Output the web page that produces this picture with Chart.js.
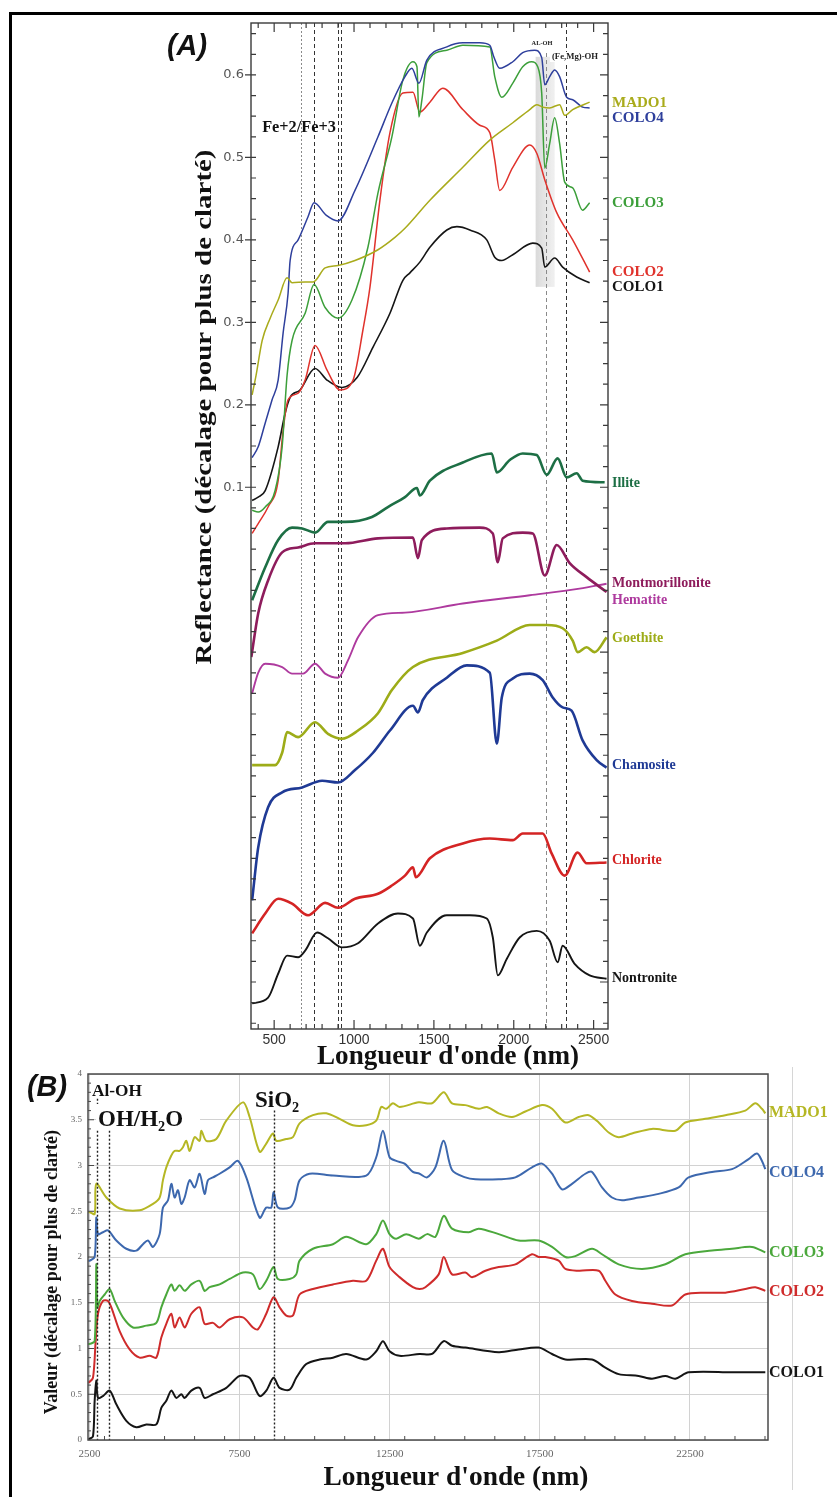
<!DOCTYPE html>
<html>
<head>
<meta charset="utf-8">
<script src="https://cdn.jsdelivr.net/npm/chart.js@4.4.0/dist/chart.umd.min.js"></script>
<style>
  html, body { margin: 0; padding: 0; background: #fff; }
  #wrap { position: relative; width: 837px; height: 1497px; overflow: hidden; }
  #wrap canvas { position: absolute; left: 0; top: 0; }
  #frame { position: absolute; left: 9px; top: 12px; right: -10px; bottom: -10px; border: 3px solid #000; }
</style>
</head>
<body>
<div id="wrap">
  <div id="frame"></div>
  <canvas id="chartA" width="837" height="1497"></canvas>
  <canvas id="chartB" width="837" height="1497"></canvas>
</div>
<script>
// --- Panel A: VNIR-SWIR reflectance (offset for clarity) ---
const tickNmA = [500, 1000, 1500, 2000, 2500];
const tickReflA = [0.1, 0.2, 0.3, 0.4, 0.5, 0.6];

const nmMado1A = [362, 387, 425, 475, 525, 581, 612, 694, 744, 819, 900, 1006, 1150, 1256, 1319, 1475, 1681, 1850, 1994, 2100, 2144, 2181, 2225, 2287, 2319, 2369, 2475];
const mado1A = [0.212, 0.236, 0.278, 0.305, 0.327, 0.354, 0.348, 0.349, 0.349, 0.366, 0.369, 0.375, 0.388, 0.403, 0.414, 0.448, 0.488, 0.521, 0.542, 0.558, 0.564, 0.561, 0.560, 0.564, 0.551, 0.558, 0.567];

const nmColo4A = [362, 400, 444, 487, 525, 556, 587, 600, 650, 712, 750, 825, 900, 1006, 1150, 1237, 1319, 1362, 1406, 1456, 1581, 1681, 1787, 1850, 1875, 1912, 1994, 2056, 2131, 2175, 2194, 2225, 2256, 2287, 2331, 2369, 2431, 2475];
const colo4A = [0.136, 0.149, 0.178, 0.206, 0.230, 0.287, 0.335, 0.375, 0.400, 0.428, 0.445, 0.430, 0.423, 0.460, 0.525, 0.566, 0.598, 0.608, 0.590, 0.618, 0.634, 0.639, 0.639, 0.636, 0.622, 0.608, 0.616, 0.627, 0.630, 0.621, 0.588, 0.598, 0.606, 0.598, 0.573, 0.570, 0.561, 0.560];

const nmColo3A = [362, 400, 444, 506, 550, 581, 612, 694, 750, 819, 900, 987, 1087, 1150, 1237, 1306, 1369, 1394, 1406, 1425, 1456, 1581, 1681, 1850, 1881, 1925, 1994, 2056, 2112, 2150, 2175, 2194, 2225, 2256, 2287, 2319, 2369, 2431, 2475];
const colo3A = [0.072, 0.070, 0.076, 0.096, 0.149, 0.236, 0.278, 0.311, 0.346, 0.318, 0.305, 0.327, 0.391, 0.457, 0.525, 0.594, 0.616, 0.610, 0.549, 0.570, 0.615, 0.630, 0.636, 0.634, 0.598, 0.573, 0.590, 0.610, 0.616, 0.610, 0.578, 0.487, 0.517, 0.548, 0.517, 0.470, 0.463, 0.436, 0.445];

const nmColo2A = [362, 400, 462, 525, 556, 587, 650, 694, 756, 831, 912, 994, 1056, 1100, 1162, 1225, 1306, 1369, 1412, 1475, 1556, 1681, 1787, 1850, 1881, 1912, 1994, 2100, 2144, 2194, 2269, 2369, 2475];
const colo2A = [0.044, 0.056, 0.076, 0.108, 0.169, 0.206, 0.214, 0.230, 0.272, 0.242, 0.218, 0.230, 0.291, 0.343, 0.448, 0.530, 0.578, 0.579, 0.555, 0.567, 0.584, 0.558, 0.539, 0.530, 0.497, 0.460, 0.488, 0.515, 0.505, 0.473, 0.433, 0.400, 0.361];

const nmColo1A = [362, 400, 444, 525, 569, 600, 662, 756, 831, 925, 1019, 1119, 1225, 1306, 1350, 1412, 1475, 1581, 1644, 1725, 1831, 1881, 1925, 1994, 2119, 2175, 2194, 2256, 2306, 2394, 2475];
const colo1A = [0.084, 0.088, 0.096, 0.149, 0.190, 0.209, 0.218, 0.244, 0.230, 0.221, 0.233, 0.270, 0.311, 0.351, 0.360, 0.373, 0.391, 0.412, 0.416, 0.412, 0.400, 0.379, 0.375, 0.382, 0.396, 0.390, 0.367, 0.378, 0.367, 0.355, 0.348];

const nmIlliteA = [362, 444, 525, 612, 675, 756, 837, 944, 1112, 1212, 1319, 1394, 1412, 1475, 1681, 1862, 1894, 1975, 2056, 2144, 2206, 2275, 2331, 2394, 2431, 2569];
const illiteA = [-0.037, 0.003, 0.036, 0.051, 0.050, 0.045, 0.058, 0.058, 0.064, 0.076, 0.088, 0.099, 0.090, 0.108, 0.130, 0.141, 0.118, 0.133, 0.141, 0.139, 0.115, 0.135, 0.112, 0.117, 0.108, 0.106];

const nmMontA = [357, 400, 462, 550, 650, 756, 944, 1150, 1369, 1400, 1425, 1581, 1787, 1869, 1900, 1931, 2056, 2119, 2194, 2269, 2350, 2456, 2581];
const montA = [-0.106, -0.053, -0.013, 0.021, 0.027, 0.032, 0.032, 0.038, 0.039, 0.014, 0.036, 0.050, 0.051, 0.044, 0.009, 0.038, 0.045, 0.044, -0.007, 0.030, 0.008, -0.009, -0.027];

const nmHematiteA = [362, 400, 444, 550, 612, 681, 756, 819, 900, 962, 1025, 1150, 1319, 1681, 2100, 2412, 2581];
const hematiteA = [-0.150, -0.125, -0.114, -0.118, -0.126, -0.126, -0.114, -0.126, -0.131, -0.110, -0.082, -0.055, -0.052, -0.041, -0.031, -0.023, -0.017];

const nmGoethiteA = [362, 506, 550, 581, 650, 756, 837, 925, 1025, 1150, 1237, 1369, 1681, 1894, 2100, 2206, 2306, 2369, 2400, 2456, 2506, 2581];
const goethiteA = [-0.237, -0.237, -0.222, -0.197, -0.203, -0.185, -0.199, -0.205, -0.195, -0.174, -0.146, -0.118, -0.101, -0.086, -0.067, -0.067, -0.071, -0.086, -0.100, -0.094, -0.100, -0.082];

const nmChamositeA = [362, 400, 462, 550, 675, 800, 900, 1006, 1119, 1225, 1369, 1400, 1431, 1581, 1706, 1850, 1894, 1925, 1994, 2100, 2181, 2244, 2306, 2362, 2431, 2519, 2581];
const chamositeA = [-0.401, -0.337, -0.288, -0.270, -0.264, -0.256, -0.258, -0.243, -0.222, -0.195, -0.165, -0.173, -0.158, -0.131, -0.116, -0.125, -0.211, -0.155, -0.132, -0.126, -0.134, -0.155, -0.167, -0.171, -0.207, -0.231, -0.240];

const nmChloriteA = [362, 444, 525, 612, 712, 819, 900, 1006, 1150, 1237, 1319, 1369, 1387, 1475, 1681, 1850, 1994, 2056, 2181, 2237, 2319, 2400, 2456, 2581];
const chloriteA = [-0.441, -0.417, -0.399, -0.405, -0.419, -0.404, -0.410, -0.399, -0.393, -0.383, -0.371, -0.361, -0.373, -0.350, -0.332, -0.326, -0.328, -0.320, -0.320, -0.344, -0.371, -0.343, -0.356, -0.355];

const nmNontroniteA = [362, 462, 525, 581, 650, 694, 769, 837, 925, 1025, 1150, 1275, 1369, 1412, 1456, 1581, 1725, 1831, 1869, 1900, 1956, 2037, 2144, 2225, 2275, 2306, 2381, 2475, 2581];
const nontroniteA = [-0.526, -0.519, -0.490, -0.468, -0.470, -0.462, -0.440, -0.447, -0.458, -0.453, -0.429, -0.417, -0.423, -0.456, -0.440, -0.419, -0.419, -0.423, -0.446, -0.492, -0.472, -0.446, -0.438, -0.450, -0.476, -0.456, -0.478, -0.492, -0.496];

// right-hand curve names and where they sit (reflectance units)
const namesA = ["MADO1", "COLO4", "COLO3", "COLO2", "COLO1", "Illite", "Montmorillonite", "Hematite", "Goethite", "Chamosite", "Chlorite", "Nontronite"];
const nameAtA = [0.566, 0.548, 0.445, 0.361, 0.343, 0.105, -0.016, -0.037, -0.083, -0.237, -0.353, -0.496];

// absorption features (nm) and the Al-OH shaded window
const featureNmA = [669, 750, 900, 919, 2200, 2325];
const bandNmA = [2137, 2256];
const bandReflA = [0.343, 0.622];

// --- Panel B: MIR-TIR spectra (offset for clarity) ---
const tickNmB = [2500, 7500, 12500, 17500, 22500];
const tickValB = [0, 0.5, 1, 1.5, 2, 2.5, 3, 3.5, 4];

const nmMado1B = [2460, 2505, 2672, 2727, 3060, 3504, 4170, 4614, 4836, 4947, 5058, 5225, 5336, 5502, 5613, 5724, 5835, 6002, 6168, 6224, 6390, 6723, 7056, 7611, 7833, 8166, 8388, 8610, 8721, 9054, 9276, 9498, 9942, 10386, 10830, 11274, 11718, 12051, 12218, 12384, 12606, 12828, 13466, 13910, 14299, 14576, 15020, 15464, 15742, 16130, 16574, 17018, 17573, 17906, 18350, 18794, 19127, 19460, 19793, 20126, 20570, 21236, 22013, 22346, 23012, 23678, 24344, 24677, 24899, 25010];
const mado1B = [2.49, 2.49, 2.47, 2.80, 2.65, 2.53, 2.51, 2.58, 2.65, 2.84, 2.98, 3.11, 3.16, 3.16, 3.20, 3.27, 3.16, 3.31, 3.27, 3.38, 3.27, 3.29, 3.49, 3.69, 3.53, 3.15, 3.24, 3.35, 3.27, 3.29, 3.31, 3.46, 3.55, 3.57, 3.51, 3.44, 3.44, 3.49, 3.64, 3.62, 3.68, 3.64, 3.69, 3.68, 3.80, 3.68, 3.66, 3.62, 3.64, 3.57, 3.53, 3.59, 3.66, 3.62, 3.47, 3.53, 3.55, 3.47, 3.36, 3.31, 3.35, 3.40, 3.38, 3.47, 3.51, 3.55, 3.60, 3.68, 3.62, 3.57];

const nmColo4B = [2460, 2505, 2672, 2727, 2783, 2949, 3115, 3393, 3726, 4059, 4281, 4448, 4614, 4836, 4947, 5114, 5225, 5336, 5447, 5558, 5669, 5835, 6002, 6168, 6335, 6446, 6612, 6834, 7167, 7445, 7722, 8166, 8388, 8555, 8632, 8777, 9165, 9332, 9498, 9831, 10608, 11718, 12051, 12273, 12495, 12717, 12995, 13272, 13494, 13744, 14021, 14299, 14576, 15020, 15353, 16130, 16685, 17240, 17573, 17906, 18239, 18572, 19016, 19238, 19571, 19904, 20237, 20792, 21458, 22124, 22457, 23234, 23900, 24455, 24733, 24899, 25010];
const colo4B = [1.96, 1.96, 2.00, 2.43, 2.25, 2.27, 2.29, 2.18, 2.09, 2.07, 2.14, 2.18, 2.11, 2.25, 2.54, 2.62, 2.80, 2.65, 2.73, 2.58, 2.65, 2.84, 2.76, 2.91, 2.69, 2.84, 2.87, 2.91, 2.98, 3.05, 2.87, 2.43, 2.54, 2.54, 2.71, 2.54, 2.54, 2.62, 2.84, 2.91, 2.89, 2.89, 3.09, 3.38, 3.09, 3.05, 3.02, 2.93, 2.91, 2.87, 2.98, 3.27, 2.95, 2.87, 2.85, 2.85, 2.87, 2.98, 3.02, 2.91, 2.74, 2.80, 2.91, 2.93, 2.76, 2.65, 2.62, 2.65, 2.69, 2.76, 2.87, 2.93, 2.96, 3.07, 3.13, 3.05, 2.96];

const nmColo3B = [2460, 2505, 2672, 2727, 2760, 2838, 3005, 3171, 3338, 3615, 3948, 4392, 4725, 4892, 5058, 5225, 5336, 5502, 5669, 5891, 6168, 6335, 6501, 6834, 7167, 7611, 7944, 8166, 8388, 8632, 8777, 9165, 9387, 9498, 9942, 10608, 11052, 11718, 12051, 12273, 12495, 12717, 13050, 13466, 13744, 14021, 14299, 14576, 15131, 15464, 16130, 16796, 17462, 17906, 18350, 18683, 19238, 19571, 20126, 20903, 21680, 22346, 23234, 23900, 24566, 25010];
const colo3B = [1.05, 1.05, 1.08, 1.92, 1.45, 1.52, 1.59, 1.65, 1.52, 1.34, 1.23, 1.25, 1.28, 1.45, 1.59, 1.70, 1.63, 1.69, 1.63, 1.70, 1.74, 1.63, 1.67, 1.70, 1.76, 1.83, 1.81, 1.65, 1.74, 1.89, 1.76, 1.76, 1.81, 1.96, 2.09, 2.14, 2.22, 2.14, 2.25, 2.40, 2.25, 2.20, 2.25, 2.20, 2.25, 2.22, 2.45, 2.31, 2.27, 2.31, 2.25, 2.18, 2.18, 2.11, 2.00, 2.01, 2.09, 2.03, 1.92, 1.87, 1.92, 2.03, 2.07, 2.09, 2.11, 2.05];

const nmColo2B = [2460, 2483, 2616, 2705, 2783, 2949, 3115, 3227, 3504, 3837, 4170, 4503, 4725, 4892, 5058, 5225, 5336, 5502, 5669, 5891, 6168, 6335, 6612, 6834, 7167, 7611, 7944, 8111, 8388, 8632, 8832, 9054, 9276, 9498, 9942, 10608, 11274, 11718, 12051, 12273, 12495, 12828, 13272, 13494, 13688, 14132, 14299, 14576, 15020, 15242, 15686, 16130, 16685, 17240, 17462, 17684, 18128, 18350, 18794, 19460, 19682, 20015, 20570, 21236, 21902, 22346, 23012, 23678, 24344, 24677, 25010];
const colo2B = [0.63, 0.63, 0.68, 1.08, 1.38, 1.52, 1.52, 1.45, 1.19, 0.99, 0.90, 0.92, 0.90, 1.12, 1.27, 1.38, 1.23, 1.34, 1.23, 1.38, 1.45, 1.27, 1.28, 1.23, 1.32, 1.34, 1.23, 1.21, 1.38, 1.56, 1.45, 1.36, 1.36, 1.59, 1.65, 1.70, 1.74, 1.74, 1.96, 2.09, 1.89, 1.78, 1.67, 1.65, 1.67, 1.81, 2.00, 1.81, 1.83, 1.78, 1.85, 1.89, 1.92, 2.03, 2.00, 2.00, 1.96, 1.87, 1.85, 1.85, 1.74, 1.59, 1.52, 1.49, 1.47, 1.59, 1.61, 1.61, 1.65, 1.67, 1.63];

const nmColo1B = [2460, 2483, 2616, 2672, 2727, 2783, 2949, 3171, 3393, 3726, 4059, 4392, 4725, 4892, 5058, 5225, 5391, 5558, 5669, 5891, 6168, 6335, 6612, 7056, 7500, 7833, 8166, 8388, 8632, 8832, 9165, 9387, 9720, 10164, 10608, 11052, 11718, 12051, 12273, 12495, 12828, 13494, 13910, 14299, 14576, 15020, 16130, 16796, 17462, 17906, 18350, 19238, 19682, 20126, 20792, 21236, 21680, 22013, 22457, 23900, 25010];
const colo1B = [0.01, 0.01, 0.04, 0.43, 0.65, 0.46, 0.48, 0.54, 0.39, 0.21, 0.14, 0.17, 0.17, 0.35, 0.43, 0.54, 0.46, 0.50, 0.46, 0.54, 0.57, 0.46, 0.50, 0.57, 0.70, 0.68, 0.48, 0.54, 0.68, 0.57, 0.55, 0.68, 0.83, 0.88, 0.90, 0.94, 0.88, 0.97, 1.08, 0.97, 0.92, 0.94, 0.94, 1.08, 1.03, 1.01, 0.96, 0.99, 1.01, 0.94, 0.88, 0.88, 0.79, 0.72, 0.70, 0.67, 0.70, 0.67, 0.74, 0.74, 0.74];

const namesB = ["MADO1", "COLO4", "COLO3", "COLO2", "COLO1"];
const nameAtB = [3.57, 2.92, 2.05, 1.62, 0.73];

// Al-OH, OH/H2O and SiO2 markers (nm) and how high each dotted line reaches
const featureNmB = [2740, 3140, 8632];
const featureTopB = [3.73, 3.38, 3.60];

// --- Styles ---
const SERIF = "'Liberation Serif', 'Times New Roman', serif";
const SANS = "'Liberation Sans', Arial, sans-serif";
const colorsA = ["#a9ab1b", "#2e3f9c", "#3c9f3a", "#e0322c", "#151515", "#1d6f45", "#8e1c5c", "#ae3a9e", "#9dac18", "#1f3a95", "#d42424", "#151515"];
const widthsA = [1.5, 1.5, 1.5, 1.5, 1.6, 2.6, 2.6, 1.9, 2.6, 2.6, 2.6, 1.9];
const colorsB = ["#b5b724", "#3d68ae", "#4ba83c", "#cf2b2b", "#151515"];

function pts(xs, ys) {
  return xs.map((x, i) => ({ x: x, y: ys[i] }));
}

function fitFont(ctx, text, weight, family, width) {
  ctx.font = weight + " 100px " + family;
  return (100 * width) / ctx.measureText(text).width;
}

// draw text scaled to a target width, centred at (cx, cy), optionally rotated
function drawFitted(ctx, text, cx, cy, width, weight, family, color, angle) {
  const size = fitFont(ctx, text, weight, family, width);
  ctx.save();
  ctx.translate(cx, cy);
  if (angle) ctx.rotate(angle);
  ctx.font = weight + " " + size.toFixed(1) + "px " + family;
  ctx.fillStyle = color;
  ctx.textAlign = "center";
  ctx.textBaseline = "middle";
  ctx.fillText(text, 0, 0);
  ctx.restore();
}

// same idea, but keep a given font size and stretch along the text instead
function drawStretched(ctx, text, cx, cy, width, size, weight, family, color, angle) {
  ctx.save();
  ctx.translate(cx, cy);
  if (angle) ctx.rotate(angle);
  ctx.font = weight + " " + size + "px " + family;
  const w = ctx.measureText(text).width;
  ctx.scale(width / w, 1);
  ctx.fillStyle = color;
  ctx.textAlign = "center";
  ctx.textBaseline = "middle";
  ctx.fillText(text, 0, 0);
  ctx.restore();
}

// text with a subscript part, e.g. OH/H2O
function drawSub(ctx, parts, x, baseline, size) {
  let cx = x;
  parts.forEach((p) => {
    const s = p.sub ? size * 0.62 : size;
    ctx.font = "bold " + s + "px " + SERIF;
    ctx.fillText(p.t, cx, baseline + (p.sub ? size * 0.22 : 0));
    cx += ctx.measureText(p.t).width;
  });
}

window.addEventListener("load", function () {

  // --- Panel A ---
  const seriesA = [
    [nmMado1A, mado1A], [nmColo4A, colo4A], [nmColo3A, colo3A], [nmColo2A, colo2A], [nmColo1A, colo1A],
    [nmIlliteA, illiteA], [nmMontA, montA], [nmHematiteA, hematiteA], [nmGoethiteA, goethiteA],
    [nmChamositeA, chamositeA], [nmChloriteA, chloriteA], [nmNontroniteA, nontroniteA]
  ];

  const panelAExtras = {
    id: "panelAExtras",
    beforeDatasetsDraw(chart) {
      const { ctx, chartArea: a, scales: { x, y } } = chart;
      ctx.save();
      // shaded Al-OH window
      const bx0 = x.getPixelForValue(bandNmA[0]);
      const bx1 = x.getPixelForValue(bandNmA[1]);
      const by0 = y.getPixelForValue(bandReflA[1]);
      const by1 = y.getPixelForValue(bandReflA[0]);
      const g = ctx.createLinearGradient(bx0, 0, bx1, 0);
      g.addColorStop(0, "rgba(205,205,205,0.75)");
      g.addColorStop(1, "rgba(225,225,225,0.5)");
      ctx.fillStyle = g;
      ctx.fillRect(bx0, by0, bx1 - bx0, by1 - by0);
      // dashed feature lines
      featureNmA.forEach((nm, i) => {
        const px = Math.round(x.getPixelForValue(nm)) + 0.5;
        ctx.strokeStyle = (i === 0 || i === 4) ? "#8a8a8a" : "#333";
        ctx.lineWidth = 1;
        ctx.setLineDash(i === 0 ? [2, 2] : [4, 3]);
        ctx.beginPath();
        ctx.moveTo(px, i === 4 ? a.top + 30 : a.top);
        ctx.lineTo(px, a.bottom);
        ctx.stroke();
      });
      ctx.restore();
    },
    afterDraw(chart) {
      const { ctx, chartArea: a, scales: { x, y } } = chart;
      ctx.save();
      // frame
      ctx.strokeStyle = "#3a3a3a";
      ctx.lineWidth = 1.4;
      ctx.strokeRect(a.left, a.top, a.right - a.left, a.bottom - a.top);
      // inward ticks
      ctx.lineWidth = 1.2;
      ctx.beginPath();
      for (let nm = 400; nm <= 2500; nm += 100) {
        const px = x.getPixelForValue(nm);
        const len = nm % 500 === 0 ? 9 : 5;
        ctx.moveTo(px, a.bottom); ctx.lineTo(px, a.bottom - len);
        ctx.moveTo(px, a.top); ctx.lineTo(px, a.top + len);
      }
      for (let k = -22; k <= 26; k++) {
        const v = k * 0.025;
        const py = y.getPixelForValue(v);
        const major = k % 4 === 0;
        ctx.moveTo(a.left, py); ctx.lineTo(a.left + 5, py);
        ctx.moveTo(a.right, py); ctx.lineTo(a.right - (major ? 8 : 5), py);
        if (major && v > 0.05) { ctx.moveTo(a.left, py); ctx.lineTo(a.left - 6, py); }
      }
      ctx.stroke();

      // curve names on the right
      ctx.textAlign = "left";
      ctx.textBaseline = "middle";
      namesA.forEach((name, i) => {
        ctx.font = "bold " + (i < 5 ? 15 : 14) + "px " + SERIF;
        ctx.fillStyle = colorsA[i];
        ctx.fillText(name, a.right + 4, y.getPixelForValue(nameAtA[i]));
      });

      // feature annotations
      drawFitted(ctx, "Fe+2/Fe+3", 299, 128, 74, "bold", SERIF, "#111");
      ctx.fillStyle = "#fff";
      ctx.fillRect(529, 38, 27, 10);
      ctx.fillRect(550, 52, 50, 10);
      drawFitted(ctx, "AL-OH", 542, 43, 21, "bold", SERIF, "#222");
      drawFitted(ctx, "(Fe,Mg)-OH", 575, 57, 46, "bold", SERIF, "#222");

      // titles
      drawFitted(ctx, "(A)", 187, 47, 40, "italic bold", SANS, "#111");
      drawStretched(ctx, "Reflectance (décalage pour plus de clarté)", 205, 407, 515, 23, "bold", SERIF, "#111", -Math.PI / 2);
      drawFitted(ctx, "Longueur d'onde (nm)", 448, 1057, 262, "bold", SERIF, "#111");
      ctx.restore();
    }
  };

  const datasetsA = seriesA.map((s, i) => ({
    label: namesA[i],
    data: pts(s[0], s[1]),
    borderColor: colorsA[i],
    borderWidth: widthsA[i],
    pointRadius: 0,
    fill: false,
    cubicInterpolationMode: "monotone"
  }));

  new Chart(document.getElementById("chartA").getContext("2d"), {
    type: "line",
    data: { datasets: datasetsA },
    options: {
      responsive: false,
      animation: false,
      events: [],
      layout: { padding: { left: 201, top: 23, right: 229, bottom: 438 } },
      plugins: { legend: { display: false }, tooltip: { enabled: false } },
      scales: {
        x: {
          type: "linear",
          min: 355,
          max: 2590,
          grid: { display: false, drawTicks: false },
          border: { display: false },
          afterBuildTicks: (scale) => { scale.ticks = tickNmA.map((v) => ({ value: v })); },
          afterFit: (scale) => { scale.height = 30; },
          ticks: { color: "#333", padding: 3, maxRotation: 0, autoSkip: false,
                   font: { family: SANS, size: 14 }, callback: (v) => String(v) }
        },
        y: {
          type: "linear",
          min: -0.557,
          max: 0.663,
          grid: { display: false, drawTicks: false },
          border: { display: false },
          afterBuildTicks: (scale) => { scale.ticks = tickReflA.map((v) => ({ value: v })); },
          afterFit: (scale) => { scale.width = 50; },
          ticks: { color: "#555", padding: 7, font: { family: "'DejaVu Sans', sans-serif", size: 13 },
                   callback: (v) => v.toFixed(1) }
        }
      }
    },
    plugins: [panelAExtras]
  });

  // --- Panel B ---
  const seriesB = [
    [nmMado1B, mado1B], [nmColo4B, colo4B], [nmColo3B, colo3B], [nmColo2B, colo2B], [nmColo1B, colo1B]
  ];

  const panelBExtras = {
    id: "panelBExtras",
    afterDatasetsDraw(chart) {
      const { ctx, chartArea: a, scales: { x, y } } = chart;
      ctx.save();
      // dotted feature lines
      ctx.strokeStyle = "#222";
      ctx.lineWidth = 1.4;
      ctx.setLineDash([2, 2]);
      featureNmB.forEach((nm, i) => {
        const px = Math.round(x.getPixelForValue(nm)) + 0.5;
        ctx.beginPath();
        ctx.moveTo(px, y.getPixelForValue(featureTopB[i]));
        ctx.lineTo(px, a.bottom);
        ctx.stroke();
      });
      ctx.setLineDash([]);

      // frame and inward ticks
      ctx.strokeStyle = "#4a4a4a";
      ctx.lineWidth = 1.5;
      ctx.strokeRect(a.left, a.top, a.right - a.left, a.bottom - a.top);
      ctx.lineWidth = 1;
      ctx.beginPath();
      for (let nm = 3000; nm <= 25000; nm += 1000) {
        const px = x.getPixelForValue(nm);
        ctx.moveTo(px, a.bottom); ctx.lineTo(px, a.bottom - 4);
      }
      for (let k = 1; k < 40; k++) {
        const py = y.getPixelForValue(k / 10);
        ctx.moveTo(a.left, py); ctx.lineTo(a.left + (k % 5 === 0 ? 6 : 3), py);
      }
      ctx.stroke();

      // decorative side rule
      ctx.strokeStyle = "#d6d6d6";
      ctx.beginPath();
      ctx.moveTo(792.5, 1067); ctx.lineTo(792.5, 1490);
      ctx.stroke();

      // curve names
      ctx.textAlign = "left";
      ctx.textBaseline = "middle";
      ctx.font = "bold 16px " + SERIF;
      namesB.forEach((name, i) => {
        ctx.fillStyle = colorsB[i];
        ctx.fillText(name, a.right + 1, y.getPixelForValue(nameAtB[i]));
      });

      // band labels
      ctx.fillStyle = "#fff";
      ctx.fillRect(96, 1104, 104, 26);
      ctx.fillStyle = "#111";
      ctx.textBaseline = "alphabetic";
      drawFitted(ctx, "Al-OH", 117, 1092, 50, "bold", SERIF, "#111");
      ctx.fillStyle = "#111";
      drawSub(ctx, [{ t: "OH/H" }, { t: "2", sub: true }, { t: "O" }], 98, 1126, 23);
      drawSub(ctx, [{ t: "SiO" }, { t: "2", sub: true }], 255, 1107, 23);

      // titles
      drawFitted(ctx, "(B)", 47, 1088, 40, "italic bold", SANS, "#111");
      drawFitted(ctx, "Valeur (décalage pour plus de clarté)", 52, 1272, 285, "bold", SERIF, "#111", -Math.PI / 2);
      drawFitted(ctx, "Longueur d'onde (nm)", 456, 1478, 265, "bold", SERIF, "#111");
      ctx.restore();
    }
  };

  const datasetsB = seriesB.map((s, i) => ({
    label: namesB[i],
    data: pts(s[0], s[1]),
    borderColor: colorsB[i],
    borderWidth: 2,
    pointRadius: 0,
    fill: false,
    tension: 0.3
  }));

  new Chart(document.getElementById("chartB").getContext("2d"), {
    type: "line",
    data: { datasets: datasetsB },
    options: {
      responsive: false,
      animation: false,
      events: [],
      layout: { padding: { left: 48, top: 1074, right: 69, bottom: 32 } },
      plugins: { legend: { display: false }, tooltip: { enabled: false } },
      scales: {
        x: {
          type: "linear",
          min: 2450,
          max: 25100,
          grid: { color: "#d2d2d2", lineWidth: 1, drawTicks: false },
          border: { display: false },
          afterBuildTicks: (scale) => { scale.ticks = tickNmB.map((v) => ({ value: v })); },
          afterFit: (scale) => { scale.height = 25; },
          ticks: { color: "#666", padding: 8, maxRotation: 0, autoSkip: false,
                   font: { family: SERIF, size: 11 }, callback: (v) => String(v) }
        },
        y: {
          type: "linear",
          min: 0,
          max: 4,
          grid: { color: "#d2d2d2", lineWidth: 1, drawTicks: false },
          border: { display: false },
          afterBuildTicks: (scale) => { scale.ticks = tickValB.map((v) => ({ value: v })); },
          afterFit: (scale) => { scale.width = 40; },
          ticks: { color: "#666", padding: 6, font: { family: SERIF, size: 9 },
                   callback: (v) => String(v) }
        }
      }
    },
    plugins: [panelBExtras]
  });

});
</script>
</body>
</html>
